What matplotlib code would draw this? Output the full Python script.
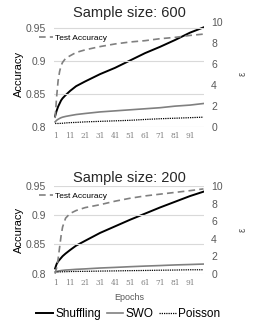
import numpy as np
import matplotlib
matplotlib.use("Agg")
import matplotlib.pyplot as plt
from matplotlib.lines import Line2D

plt.rcParams['font.family'] = ['Liberation Sans', 'DejaVu Sans']

epochs = [1, 2, 3, 4, 5, 6, 8, 11, 15, 21, 31, 41, 51, 61, 71, 81, 91, 100]

acc_600 = [0.813, 0.845, 0.870, 0.884, 0.893, 0.898, 0.904, 0.908, 0.913, 0.917,
           0.922, 0.926, 0.929, 0.931, 0.934, 0.936, 0.939, 0.941]
shuf_600 = [1.0, 1.5, 1.9, 2.2, 2.5, 2.7, 3.0, 3.4, 3.85, 4.3,
            5.0, 5.6, 6.3, 7.0, 7.6, 8.25, 8.95, 9.45]
swo_600 = [0.45, 0.6, 0.7, 0.78, 0.85, 0.9, 0.97, 1.05, 1.15, 1.25,
           1.4, 1.5, 1.6, 1.7, 1.8, 1.95, 2.05, 2.2]
poi_600 = [0.3, 0.3, 0.3, 0.3, 0.32, 0.32, 0.35, 0.38, 0.4, 0.45,
           0.5, 0.55, 0.6, 0.68, 0.75, 0.8, 0.85, 0.9]

acc_200 = [0.800, 0.810, 0.825, 0.845, 0.865, 0.880, 0.895, 0.903, 0.908, 0.913,
           0.918, 0.924, 0.929, 0.933, 0.936, 0.939, 0.942, 0.945]
shuf_200 = [0.6, 1.1, 1.4, 1.6, 1.8, 2.0, 2.3, 2.7, 3.2, 3.75,
            4.65, 5.4, 6.15, 6.85, 7.55, 8.2, 8.85, 9.35]
swo_200 = [0.2, 0.25, 0.3, 0.33, 0.36, 0.38, 0.42, 0.45, 0.5, 0.55,
           0.65, 0.72, 0.8, 0.87, 0.93, 1.0, 1.05, 1.1]
poi_200 = [0.2, 0.2, 0.2, 0.2, 0.22, 0.22, 0.23, 0.25, 0.26, 0.27,
           0.3, 0.32, 0.35, 0.37, 0.4, 0.42, 0.45, 0.45]

xticks = list(range(1, 100, 10))
gray_txt = '#595959'
grid_c = '#d9d9d9'


def panel(rect, title, acc, shuf, swo, poi, acc_top, leg_y, show_xlabel):
    ax = fig.add_axes(rect)
    ax2 = ax.twinx()
    ax.set_zorder(ax2.get_zorder() + 1)
    ax.patch.set_visible(False)

    ax.plot(epochs, acc, color='#808080', lw=1.2, dashes=(4, 2.5),
            label='Test Accuracy')
    ax2.plot(epochs, shuf, color='black', lw=1.4)
    ax2.plot(epochs, swo, color='#808080', lw=1.2)
    ax2.plot(epochs, poi, color='black', lw=0.9, dashes=(1, 0.8))

    ax.set_xlim(0.5, 100.5)
    ax.set_ylim(0.8, acc_top)
    ax.set_yticks([0.8, 0.85, 0.9, 0.95])
    ax.set_yticklabels(['0.8', '0.85', '0.9', '0.95'])
    ax2.set_ylim(0, 10)
    ax2.set_yticks(range(0, 11, 2))
    ax.set_xticks(xticks)
    ax.set_xticklabels([str(t) for t in xticks], family='DejaVu Serif',
                       fontsize=5.3, color='#808080')
    for a in (ax, ax2):
        for s in a.spines.values():
            s.set_visible(False)
        a.tick_params(length=0)
    ax.tick_params(axis='y', labelsize=7.5, labelcolor=gray_txt, pad=6)
    ax.tick_params(axis='x', pad=4)
    ax2.tick_params(axis='y', labelsize=7.5, labelcolor=gray_txt, pad=5)
    ax.grid(axis='y', color=grid_c, lw=0.8)
    ax.set_axisbelow(True)
    ax.set_ylabel('Accuracy', fontsize=8, labelpad=1)
    ax2.set_ylabel('ε', fontsize=7, color=gray_txt, rotation=90, labelpad=11)
    ax.set_title(title, fontsize=10.5, color='#262626', pad=3)
    if show_xlabel:
        ax.set_xlabel('Epochs', fontsize=6.5, color=gray_txt, labelpad=4)
    ax.legend(loc='upper left', bbox_to_anchor=(-0.1, leg_y), frameon=False,
              fontsize=6, handlelength=1.6, handletextpad=0.3,
              borderaxespad=0, borderpad=0)
    return ax


fig = plt.figure(figsize=(2.54, 3.28), dpi=100)
panel([0.214, 0.614, 0.59, 0.320], 'Sample size: 600',
      acc_600, shuf_600, swo_600, poi_600, 0.96, 0.88, False)
panel([0.214, 0.1655, 0.59, 0.2675], 'Sample size: 200',
      acc_200, shuf_200, swo_200, poi_200, 0.95, 0.93, True)

handles = [Line2D([], [], color='black', lw=1.4),
           Line2D([], [], color='#808080', lw=1.2),
           Line2D([], [], color='black', lw=0.9, dashes=(1, 0.8))]
fig.legend(handles, ['Shuffling', 'SWO', 'Poisson'], loc='center',
           bbox_to_anchor=(0.505, 0.043), ncol=3, frameon=False, fontsize=8.5,
           handlelength=1.4, handletextpad=0.2, columnspacing=0.5,
           borderpad=0)

fig.savefig('out.png', dpi=100)
